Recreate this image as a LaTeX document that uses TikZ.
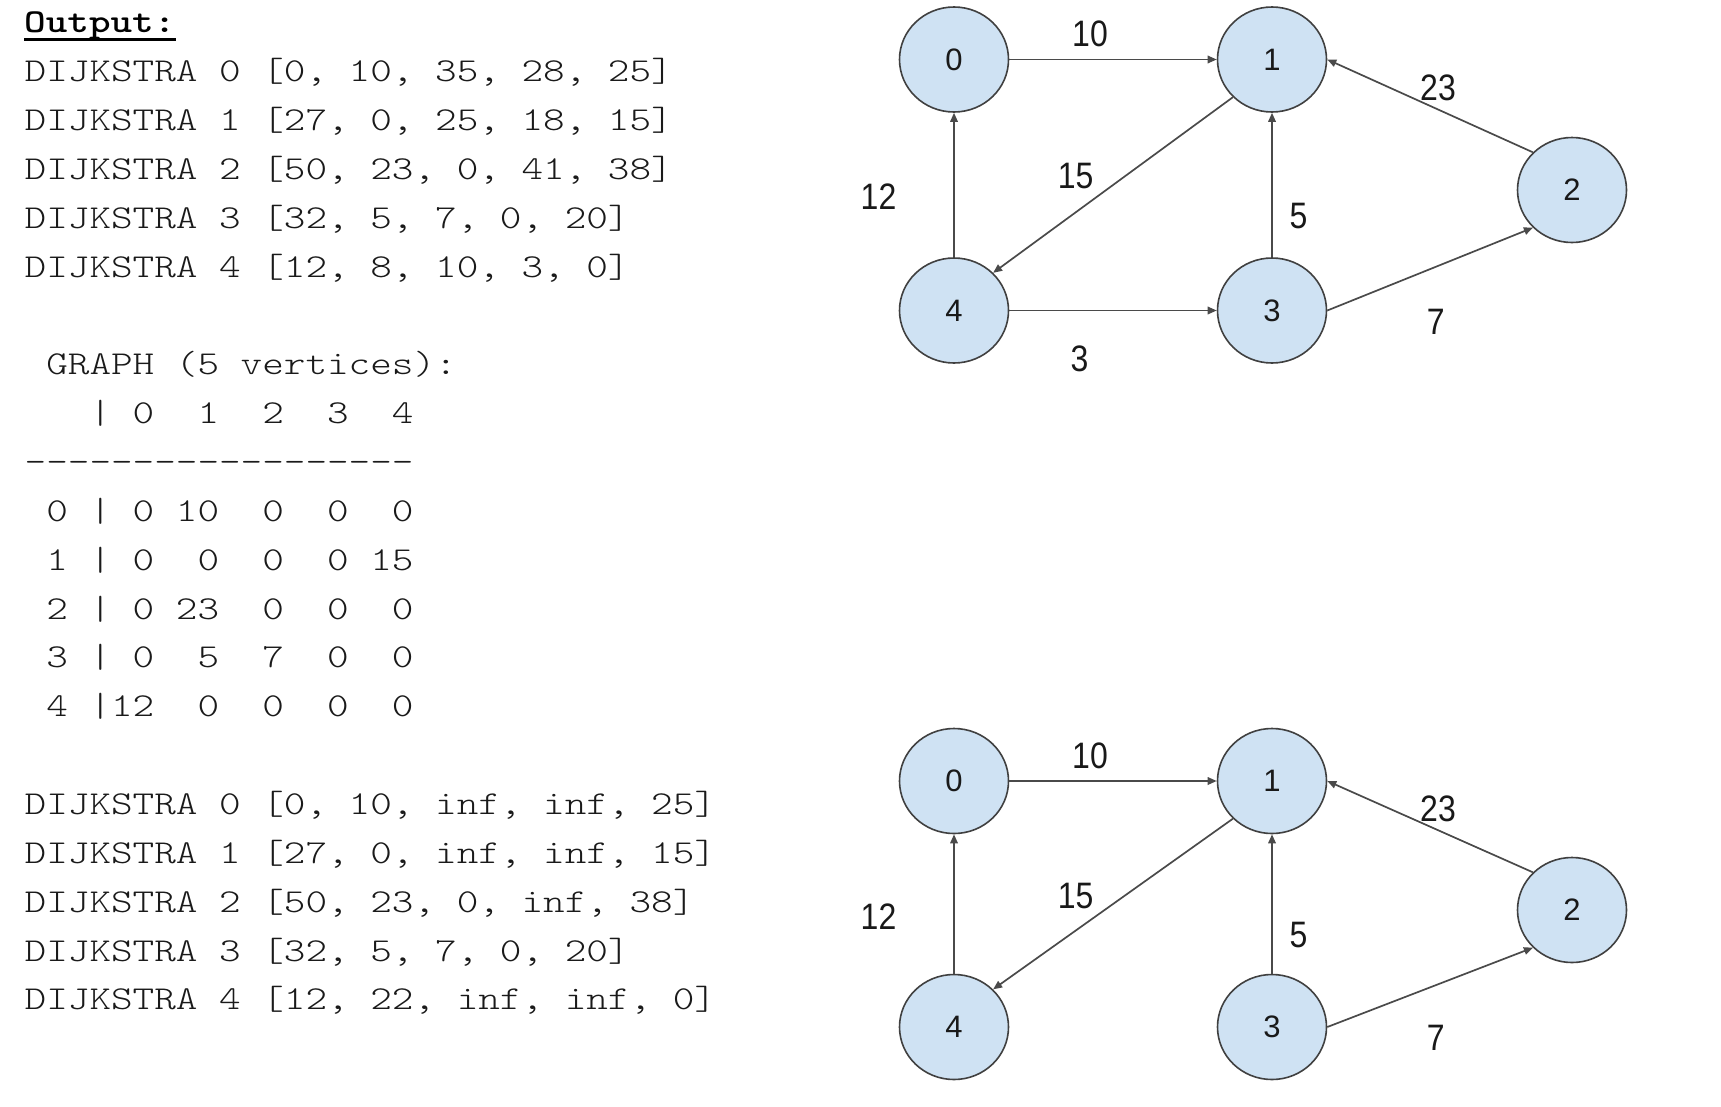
\documentclass[tikz,border=0pt]{standalone}
\usepackage{fontspec}
\usepackage{graphicx}
\setmonofont{lmmonolt10-regular.otf}[FakeStretch=1.232, BoldFont=lmmonolt10-bold.otf, BoldFeatures={FakeStretch=1.232}]
\newfontfamily\gfont{Liberation Sans}
\usetikzlibrary{arrows.meta,shapes.geometric}
\definecolor{nodefill}{HTML}{CFE2F3}
\definecolor{nodeline}{HTML}{404040}
\definecolor{edgecol}{HTML}{4A4A4A}
\definecolor{codecol}{HTML}{1A1A1A}
\frenchspacing
\begin{document}
\begin{tikzpicture}[x=1pt,y=-1pt,
  code/.style={anchor=base west, inner sep=0pt, font=\ttfamily\fontsize{33.4}{40}\selectfont, text=codecol},
  codebold/.style={code, font=\ttfamily\bfseries\fontsize{33.4}{40}\selectfont, text=black},
  vtx/.style={ellipse, draw=nodeline, line width=1.6pt, fill=nodefill, minimum width=109pt, minimum height=105pt, inner sep=0pt, font=\gfont\fontsize{31}{31}\selectfont, text=black!90},
  wt/.style={inner sep=0pt, font=\gfont\fontsize{32}{32}\selectfont, text=black!90},
  arr/.style={draw=edgecol, line width=1.7pt, -{Triangle[length=9pt,width=7.5pt]}},
]
\useasboundingbox[fill=white] (0,0) rectangle (1721,1106);

% ---------- code text ----------
\node[codebold] (out) at (24,32.85) {Output:};
\draw[line width=2.4pt] ([yshift=-6.8pt]out.base west) -- ([yshift=-6.8pt]out.base east);

\node[code] (l1) at (24.5,81.7)  {DIJKSTRA~0~[0,~10,~35,~28,~25]};
\node[code] (l2) at (24.5,130.55) {DIJKSTRA~1~[27,~0,~25,~18,~15]};
\node[code] (l3) at (24.5,179.4) {DIJKSTRA~2~[50,~23,~0,~41,~38]};
\node[code] (l4) at (24.5,228.25) {DIJKSTRA~3~[32,~5,~7,~0,~20]};
\node[code] (l5) at (24.5,277.1) {DIJKSTRA~4~[12,~8,~10,~3,~0]};

\node[code] (g0) at (24.5,374.8) {~GRAPH~(5~vertices):};
\node[code] (g1) at (24.5,423.6) {~~~|~0~~1~~2~~3~~4};
\node[code] (g2) at (24.5,472.5) {------------------};
\node[code] (g3) at (24.5,521.35) {~0~|~0~10~~0~~0~~0};
\node[code] (g4) at (24.5,570.2) {~1~|~0~~0~~0~~0~15};
\node[code] (g5) at (24.5,619.05) {~2~|~0~23~~0~~0~~0};
\node[code] (g6) at (24.5,667.9) {~3~|~0~~5~~7~~0~~0};
\node[code] (g7) at (24.5,716.75) {~4~|12~~0~~0~~0~~0};

\node[code] (m1) at (24.5,814.5) {DIJKSTRA~0~[0,~10,~inf,~inf,~25]};
\node[code] (m2) at (24.5,863.3) {DIJKSTRA~1~[27,~0,~inf,~inf,~15]};
\node[code] (m3) at (24.5,912.2) {DIJKSTRA~2~[50,~23,~0,~inf,~38]};
\node[code] (m4) at (24.5,961.0) {DIJKSTRA~3~[32,~5,~7,~0,~20]};
\node[code] (m5) at (24.5,1009.9) {DIJKSTRA~4~[12,~22,~inf,~inf,~0]};

% ---------- top graph ----------
\node[vtx] (a0) at (954,59.5) {0};
\node[vtx] (a1) at (1272,59.5) {1};
\node[vtx] (a2) at (1572,190) {2};
\node[vtx] (a3) at (1272,310.5) {3};
\node[vtx] (a4) at (954,310.5) {4};

\draw[arr] (a0.east) -- (a1.west);
\draw[arr] (a4.north) -- (a0.south);
\draw[arr] (a1.south west) -- (a4.north east);
\draw[arr] (a3.north) -- (a1.south);
\draw[arr] (a2.north west) -- (a1.east);
\draw[arr] (a3.east) -- (a2.south west);
\draw[arr] (a4.east) -- (a3.west);

\node[wt] (wa10) at (1090,34) {\scalebox{1}[1.15]{10}};
\node[wt] (wa23) at (1438,88) {\scalebox{1}[1.15]{23}};
\node[wt] (wa12) at (878.5,197) {\scalebox{1}[1.15]{12}};
\node[wt] (wa15) at (1075.6,175.6) {\scalebox{1}[1.15]{15}};
\node[wt] (wa5) at (1298.5,216) {\scalebox{1}[1.15]{5}};
\node[wt] (wa7) at (1435.7,321.6) {\scalebox{1}[1.15]{7}};
\node[wt] (wa3) at (1079.5,358.5) {\scalebox{1}[1.15]{3}};

% ---------- bottom graph ----------
\node[vtx] (b0) at (954,781) {0};
\node[vtx] (b1) at (1272,781) {1};
\node[vtx] (b2) at (1572,910) {2};
\node[vtx] (b3) at (1272,1027) {3};
\node[vtx] (b4) at (954,1027) {4};

\draw[arr] (b0.east) -- (b1.west);
\draw[arr] (b4.north) -- (b0.south);
\draw[arr] (b1.south west) -- (b4.north east);
\draw[arr] (b3.north) -- (b1.south);
\draw[arr] (b2.north west) -- (b1.east);
\draw[arr] (b3.east) -- (b2.south west);

\node[wt] (wb10) at (1090,756) {\scalebox{1}[1.15]{10}};
\node[wt] (wb23) at (1438,809) {\scalebox{1}[1.15]{23}};
\node[wt] (wb12) at (878.5,916.5) {\scalebox{1}[1.15]{12}};
\node[wt] (wb15) at (1075.6,895.6) {\scalebox{1}[1.15]{15}};
\node[wt] (wb5) at (1298.5,935) {\scalebox{1}[1.15]{5}};
\node[wt] (wb7) at (1435.7,1038.3) {\scalebox{1}[1.15]{7}};
\end{tikzpicture}
\end{document}
